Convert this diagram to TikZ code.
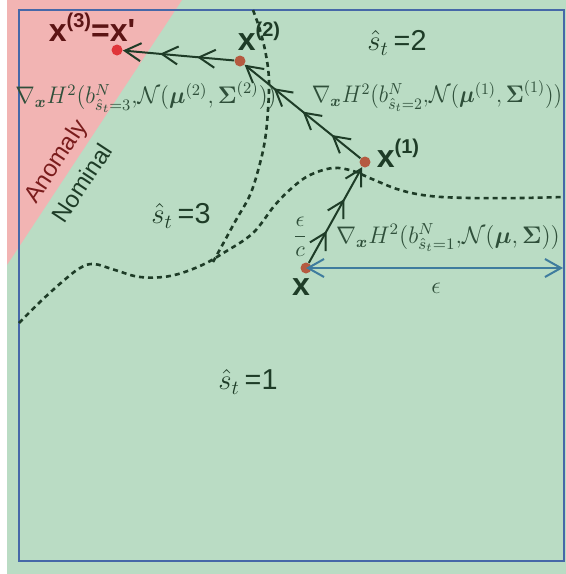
\documentclass[tikz,border=0pt]{standalone}
\usepackage{amsmath}
\usepackage{graphicx}
\usepackage{fontspec}
\newfontfamily\arialfont{Liberation Sans}
\usepackage{tikz}
\usetikzlibrary{arrows.meta, decorations.markings}

\definecolor{bggreen}{HTML}{BADCC4}
\definecolor{bgpink}{HTML}{F2B4B3}
\definecolor{framblue}{HTML}{4668A8}
\definecolor{epsblue}{HTML}{3F7C9E}
\definecolor{darkgrn}{HTML}{1E3C27}
\definecolor{mathgrn}{HTML}{2F4F3A}
\definecolor{dotbrown}{HTML}{B55A40}
\definecolor{dotred}{HTML}{E0353A}
\definecolor{darkred}{HTML}{5C1414}
\definecolor{anomred}{HTML}{7A1C1C}

\newcommand{\sups}[1]{\raisebox{7pt}{\fontsize{10}{10}\selectfont #1}}

\begin{document}
\begin{tikzpicture}[
  x=0.5pt, y=-0.5pt,
  dot/.style      = {circle, fill=dotbrown, inner sep=0pt, minimum size=5.5pt},
  ptlabel/.style  = {font=\arialfont\bfseries\fontsize{16}{16}\selectfont,
                     text=darkgrn, inner sep=0pt},
  gradlabel/.style = {font=\fontsize{12}{14}\selectfont, text=mathgrn,
                      inner sep=0pt},
  statelabel/.style = {font=\fontsize{14.4}{16}\selectfont, text=darkgrn,
                       inner sep=0pt},
  regionlabel/.style = {font=\arialfont\fontsize{12}{14}\selectfont,
                        rotate=56.6, inner sep=0pt},
  flow/.style     = {draw=darkgrn, line width=1pt,
                     -{Straight Barb[length=8pt, width=9pt]}},
  tipsA/.style    = {postaction={decorate}, decoration={markings,
                     mark=at position 0.333 with {\arrow{Straight Barb[length=8pt, width=9pt]}},
                     mark=at position 0.667 with {\arrow{Straight Barb[length=8pt, width=9pt]}}}},
  tipsB/.style    = {postaction={decorate}, decoration={markings,
                     mark=at position 0.25 with {\arrow{Straight Barb[length=8pt, width=9pt]}},
                     mark=at position 0.5 with {\arrow{Straight Barb[length=8pt, width=9pt]}},
                     mark=at position 0.75 with {\arrow{Straight Barb[length=8pt, width=9pt]}}}},
  epsarr/.style   = {draw=epsblue, line width=1pt,
                     {Straight Barb[length=8pt, width=9pt]}-{Straight Barb[length=8pt, width=9pt]}},
  boundary/.style = {draw=darkgrn, line width=1.3pt, dash pattern=on 2.5pt off 2pt}
]

% background regions
\useasboundingbox (0,0) rectangle (566,574);
\fill[bggreen] (7,0) rectangle (566,574);
\fill[bgpink] (7,0) -- (182,0) -- (7,265) -- cycle;
\draw[framblue, line width=1pt] (19,10) rectangle (564,561);

% decision boundaries
\draw[boundary] plot[smooth, tension=0.6] coordinates {
  (19,323) (40,302) (62,282) (80,268) (94,264) (115,270) (140,277)
  (170,276) (200,266) (225,252) (253,233) (275,205) (293,187) (310,175)
  (333,168) (353,171) (372,179) (400,190) (430,196) (470,198) (520,198) (563,197)};
\draw[boundary] plot[smooth, tension=0.6] coordinates {
  (253,10) (260,30) (266,55) (269,80) (268,110) (265,140) (259,167)
  (250,195) (236,220) (224,242) (213,262)};

% points
\node[dot] (x0) at (306,268) {};
\node[dot] (x1) at (365,162) {};
\node[dot] (x2) at (240,61) {};
\node[dot, fill=dotred] (x3) at (117,50) {};

\node[ptlabel] (lx0) at (301,287) {x};
\node[ptlabel] (lx1) at (398,153) {x\sups{(1)}};
\node[ptlabel] (lx2) at (259,36) {x\sups{(2)}};
\node[ptlabel, text=darkred] (lx3) at (92,27) {x\sups{(3)}=x'};

% gradient steps
\draw[flow, tipsA] (x0) -- (x1);
\draw[flow, tipsB] (x1) -- (x2);
\draw[flow, tipsA] (x2) -- (x3);

\coordinate (epsend) at (563,268);
\draw[epsarr] (x0.center) -- (epsend);

% labels
\node[gradlabel] (g1) at (448,238)
  {$\nabla_{\boldsymbol{x}} H^2(b^N_{\hat{s}_t=1}{,}\mathcal{N}(\boldsymbol{\mu}, \boldsymbol{\Sigma}))$};
\node[gradlabel] (g2) at (437,96)
  {\scalebox{0.93}[1]{$\nabla_{\boldsymbol{x}} H^2(b^N_{\hat{s}_t=2}{,}\mathcal{N}(\boldsymbol{\mu}^{(1)}, \boldsymbol{\Sigma}^{(1)}))$}};
\node[gradlabel] (g3) at (146,97)
  {\scalebox{0.97}[1]{$\nabla_{\boldsymbol{x}} H^2(b^N_{\hat{s}_t=3}{,}\mathcal{N}(\boldsymbol{\mu}^{(2)}, \boldsymbol{\Sigma}^{(2)}))$}};
\node[gradlabel, font=\fontsize{10.95}{13}\selectfont] (step) at (300,237) {$\dfrac{\epsilon}{c}$};
\node[gradlabel] (eps) at (436,288) {$\epsilon$};

\node[statelabel] (s2) at (397,43) {$\hat{s}_t$\,{\arialfont =2}};
\node[statelabel] (s3) at (181,216) {$\hat{s}_t$\,{\arialfont =3}};
\node[statelabel] (s1) at (248,382) {$\hat{s}_t$\,{\arialfont =1}};

\node[regionlabel, text=anomred] (anom) at (57,162) {Anomaly};
\node[regionlabel, text=darkgrn] (nom) at (82,183) {Nominal};

\end{tikzpicture}
\end{document}
